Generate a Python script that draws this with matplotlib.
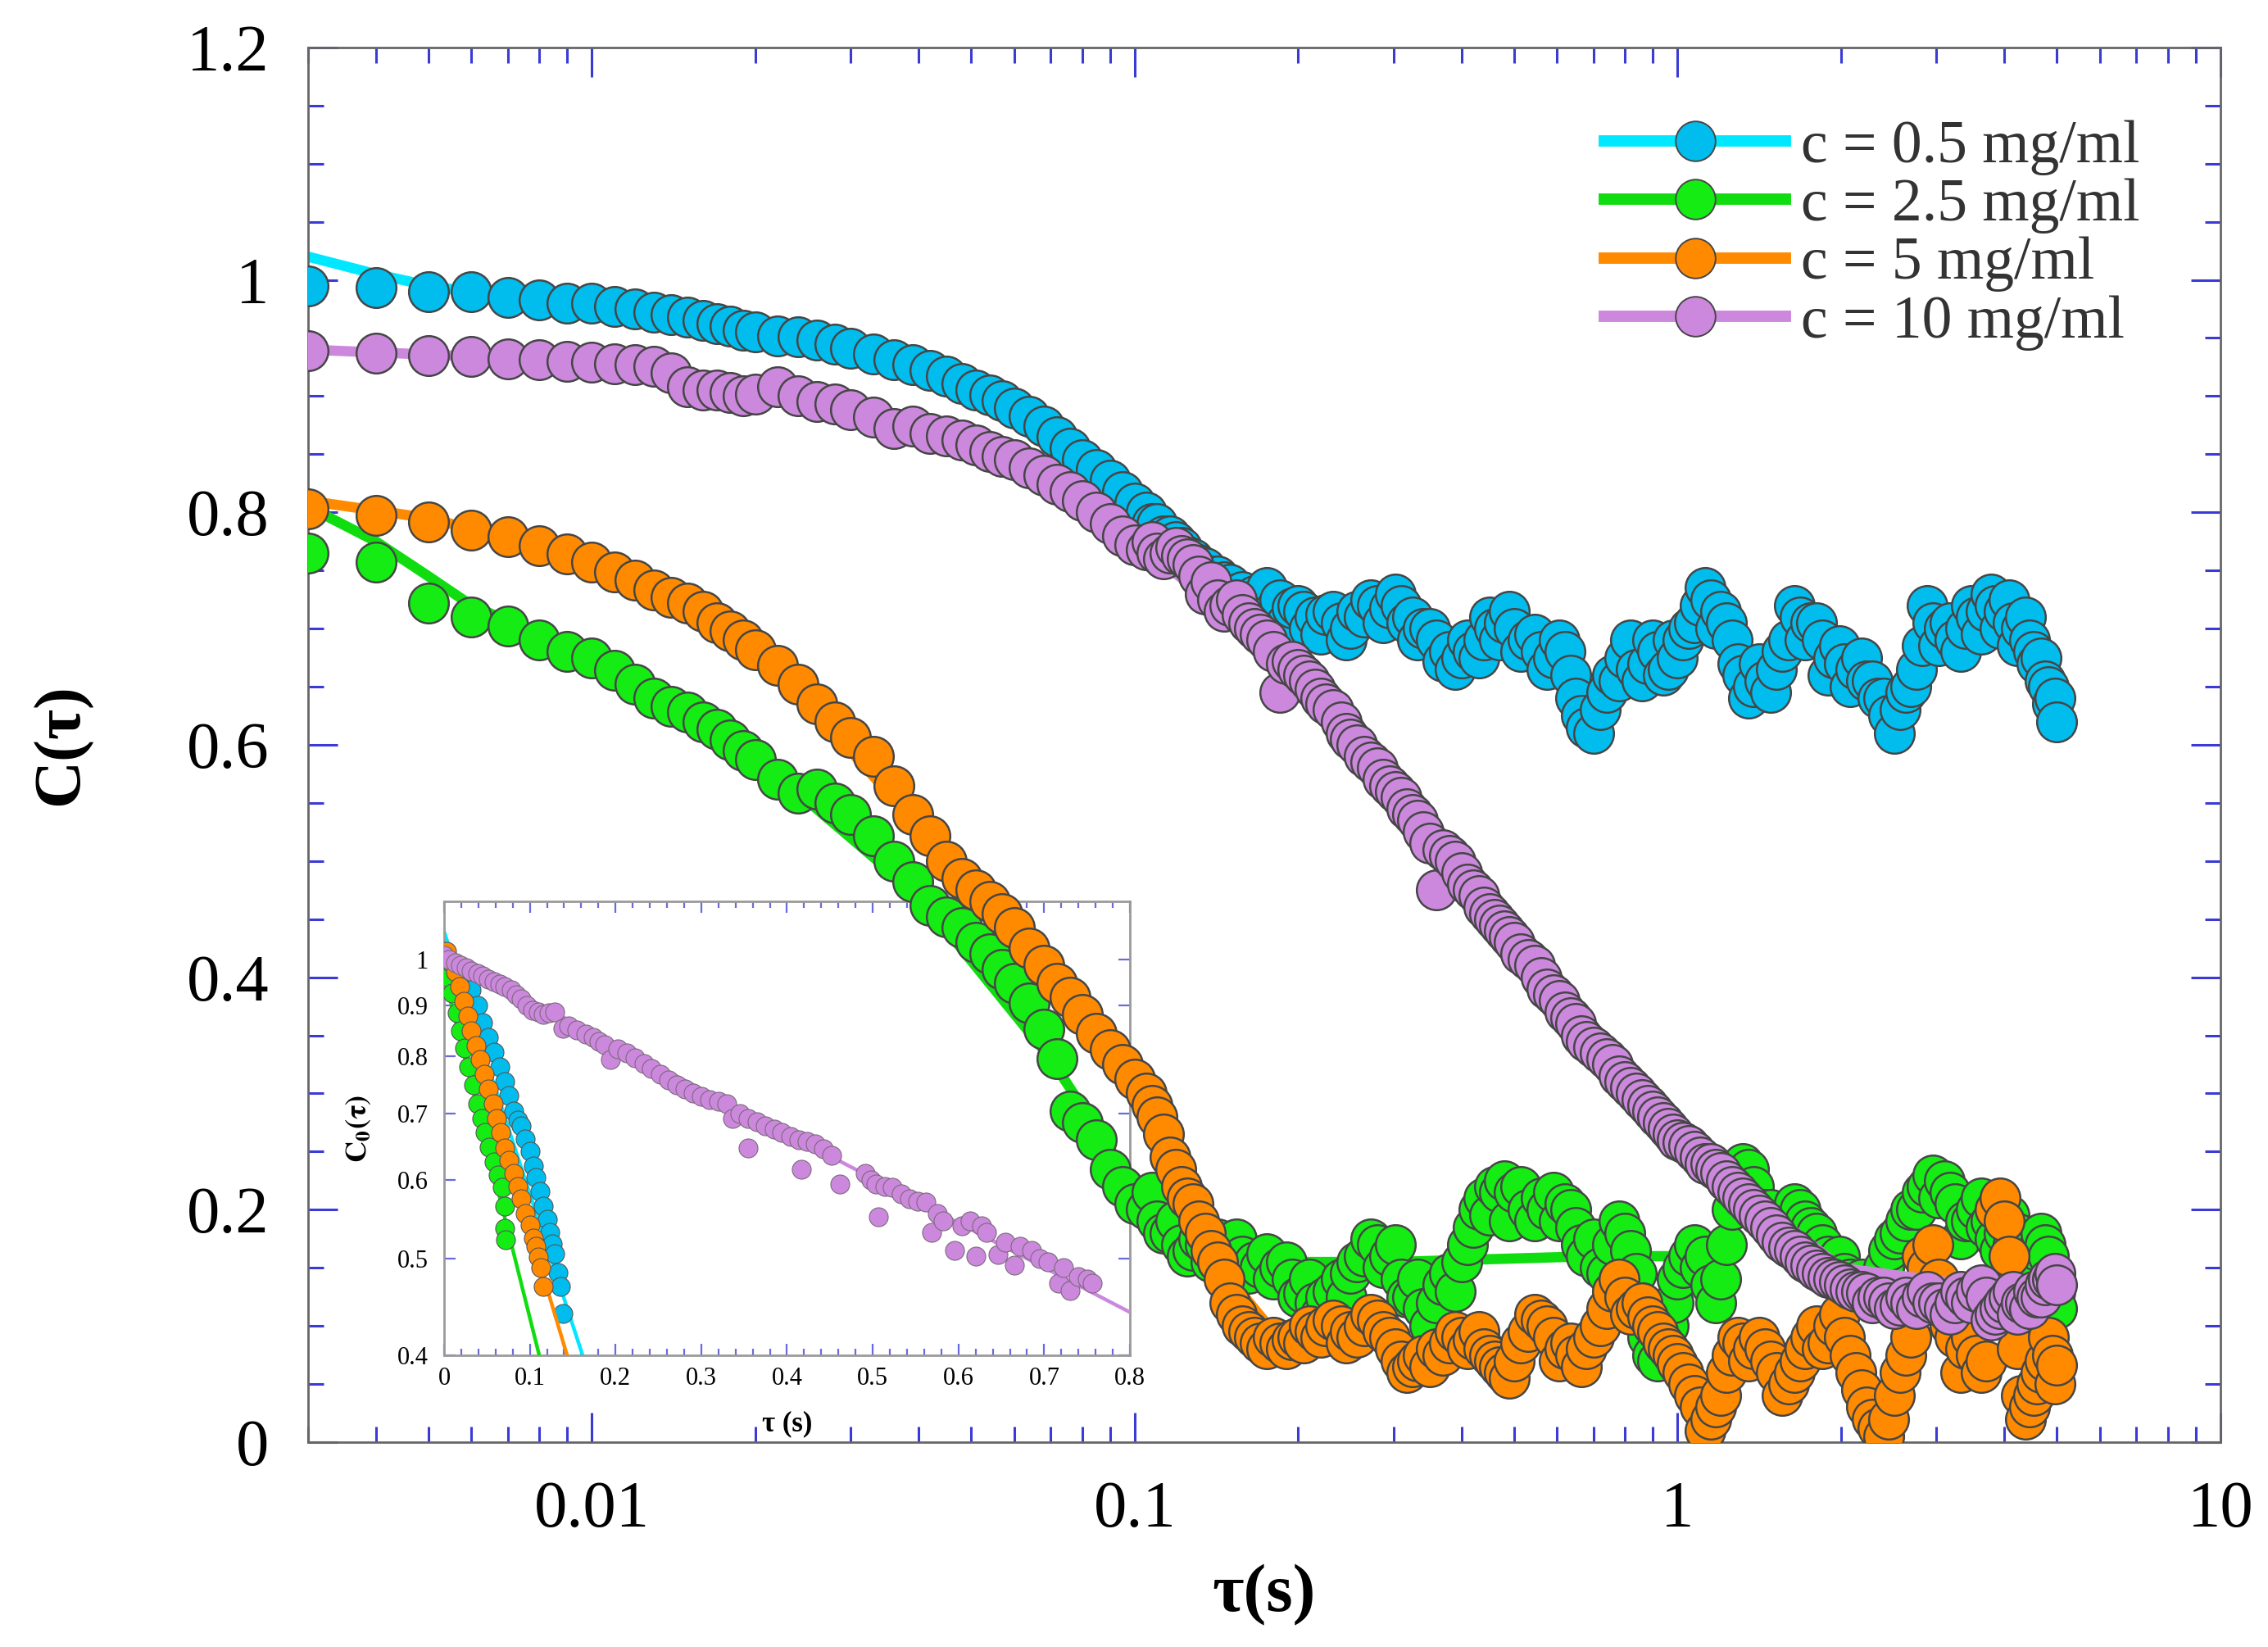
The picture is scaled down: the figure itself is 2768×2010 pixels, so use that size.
import numpy as np
import matplotlib
matplotlib.use("Agg")
import matplotlib.pyplot as plt
from matplotlib.lines import Line2D
from matplotlib.ticker import MultipleLocator, LogLocator, NullFormatter

plt.rcParams['font.family'] = ['Liberation Serif', 'DejaVu Serif']
plt.rcParams['mathtext.fontset'] = 'stix'

# ---- main plot data ----
TAU = [
    0.003, 0.004, 0.005, 0.006, 0.007, 0.008, 0.009, 0.010, 0.011, 0.012,
    0.013, 0.014, 0.015, 0.016, 0.017, 0.018, 0.019, 0.020,
    0.022, 0.024, 0.026, 0.028, 0.030, 0.033, 0.036, 0.039, 0.042, 0.045,
    0.048, 0.051, 0.054, 0.057, 0.060, 0.064, 0.068, 0.072, 0.076, 0.080,
    0.085, 0.090, 0.095, 0.100,
    0.105, 0.11, 0.116, 0.122, 0.128, 0.135, 0.142, 0.15, 0.158, 0.166,
    0.175, 0.185, 0.195, 0.205, 0.215, 0.225, 0.24, 0.25, 0.265, 0.28,
    0.295, 0.31, 0.325, 0.34, 0.36, 0.38, 0.40, 0.42, 0.44, 0.46,
    0.48, 0.50, 0.53, 0.56, 0.59, 0.62, 0.65, 0.68, 0.72, 0.76,
    0.80, 0.84, 0.88, 0.92, 0.96, 1.0,
    1.05, 1.1, 1.15, 1.2, 1.26, 1.32, 1.38, 1.45, 1.52, 1.6,
    1.68, 1.76, 1.85, 1.94, 2.03, 2.13, 2.23, 2.34, 2.45, 2.57,
    2.69, 2.82, 2.95, 3.1, 3.25, 3.4, 3.55, 3.7, 3.85, 4.0,
    4.15, 4.3, 4.45, 4.6, 4.75, 4.9, 5.0,
]

C_05 = [
    0.995, 0.993, 0.99, 0.99, 0.985, 0.983, 0.98, 0.98, 0.977, 0.975,
    0.972, 0.97, 0.968, 0.965, 0.962, 0.96, 0.957, 0.955,
    0.952, 0.951, 0.948, 0.945, 0.941, 0.936, 0.931, 0.927, 0.922, 0.917,
    0.911, 0.905, 0.901, 0.896, 0.89, 0.883, 0.874, 0.865, 0.855, 0.845,
    0.837, 0.828, 0.818, 0.808,
    0.80, 0.79, 0.78, 0.77, 0.76, 0.752, 0.745, 0.738, 0.732, 0.728,
    0.735, 0.725, 0.718, 0.715, 0.71, 0.712, 0.705, 0.70, 0.71, 0.72,
    0.718, 0.72, 0.71, 0.70, 0.69, 0.68, 0.675, 0.68, 0.69, 0.70,
    0.705, 0.70, 0.69, 0.68, 0.675, 0.68, 0.64, 0.615, 0.63, 0.66,
    0.675, 0.665, 0.67, 0.68, 0.665, 0.675,
    0.70, 0.72, 0.725, 0.715, 0.69, 0.66, 0.65, 0.655, 0.665, 0.69,
    0.71, 0.705, 0.69, 0.675, 0.67, 0.665, 0.655, 0.64, 0.625, 0.63,
    0.65, 0.685, 0.705, 0.70, 0.69, 0.70, 0.71, 0.715, 0.72, 0.715,
    0.705, 0.70, 0.69, 0.67, 0.655, 0.635, 0.62,
]

C_25 = [
    0.765, 0.757, 0.722, 0.71, 0.702, 0.69, 0.68, 0.675, 0.664, 0.652,
    0.64, 0.633, 0.628, 0.62, 0.613, 0.604, 0.595, 0.587,
    0.57, 0.558, 0.562, 0.55, 0.54, 0.522, 0.50, 0.482, 0.462, 0.452,
    0.443, 0.43, 0.42, 0.407, 0.395, 0.378, 0.355, 0.33, 0.285, 0.275,
    0.26, 0.235, 0.22, 0.205,
    0.20, 0.19, 0.18, 0.17, 0.165, 0.17, 0.175, 0.165, 0.16, 0.155,
    0.162, 0.15, 0.14, 0.128, 0.12, 0.125, 0.14, 0.145, 0.16, 0.17,
    0.16, 0.14, 0.125, 0.115, 0.12, 0.145, 0.155, 0.185, 0.21, 0.22,
    0.225, 0.215, 0.20, 0.21, 0.215, 0.205, 0.185, 0.16, 0.15, 0.17,
    0.18, 0.145, 0.09, 0.07, 0.10, 0.14,
    0.16, 0.15, 0.135, 0.14, 0.20, 0.24, 0.22, 0.20, 0.185, 0.19,
    0.20, 0.185, 0.17, 0.155, 0.145, 0.135, 0.13, 0.14, 0.165, 0.18,
    0.20, 0.215, 0.23, 0.225, 0.205, 0.19, 0.20, 0.185, 0.175, 0.18,
    0.17, 0.165, 0.155, 0.165, 0.17, 0.14, 0.115,
]

C_5 = [
    0.803, 0.797, 0.792, 0.785, 0.779, 0.771, 0.764, 0.757, 0.749, 0.742,
    0.733, 0.727, 0.722, 0.715, 0.705, 0.698, 0.69, 0.682,
    0.668, 0.652, 0.635, 0.62, 0.606, 0.59, 0.565, 0.54, 0.522, 0.50,
    0.485, 0.475, 0.465, 0.455, 0.443, 0.425, 0.41, 0.395, 0.383, 0.368,
    0.352, 0.338, 0.325, 0.312,
    0.30, 0.28, 0.245, 0.22, 0.205, 0.18, 0.155, 0.12, 0.10, 0.09,
    0.08, 0.085, 0.088, 0.085, 0.095, 0.10, 0.10, 0.095, 0.10, 0.105,
    0.09, 0.07, 0.065, 0.075, 0.08, 0.085, 0.09, 0.088, 0.08, 0.07,
    0.06, 0.07, 0.095, 0.105, 0.09, 0.08, 0.075, 0.08, 0.10, 0.13,
    0.125, 0.115, 0.108, 0.095, 0.08, 0.068,
    0.05, 0.03, 0.02, 0.04, 0.075, 0.085, 0.08, 0.08, 0.06, 0.05,
    0.07, 0.09, 0.08, 0.10, 0.09, 0.06, 0.03, 0.012, 0.02, 0.06,
    0.09, 0.16, 0.17, 0.12, 0.09, 0.08, 0.075, 0.07, 0.20, 0.19,
    0.12, 0.04, 0.03, 0.05, 0.07, 0.075, 0.066,
]

C_10 = [
    0.939, 0.937, 0.935, 0.934, 0.932, 0.931, 0.930, 0.929, 0.928, 0.927,
    0.926, 0.920, 0.908, 0.905, 0.905, 0.903, 0.900, 0.902,
    0.908, 0.90, 0.895, 0.893, 0.888, 0.882, 0.872, 0.874, 0.868, 0.866,
    0.862, 0.858, 0.852, 0.848, 0.845, 0.838, 0.832, 0.824, 0.818, 0.81,
    0.80, 0.79, 0.78, 0.772,
    0.768, 0.765, 0.765, 0.763, 0.755, 0.73, 0.725, 0.72, 0.712, 0.70,
    0.69, 0.645, 0.672, 0.66, 0.648, 0.635, 0.62, 0.605, 0.59, 0.58,
    0.565, 0.555, 0.54, 0.525, 0.475, 0.505, 0.49, 0.475, 0.46, 0.45,
    0.44, 0.43, 0.415, 0.40, 0.385, 0.37, 0.36, 0.345, 0.335, 0.325,
    0.31, 0.30, 0.29, 0.28, 0.27, 0.26,
    0.255, 0.245, 0.24, 0.232, 0.22, 0.21, 0.20, 0.19, 0.178, 0.168,
    0.16, 0.152, 0.145, 0.14, 0.135, 0.13, 0.128, 0.125, 0.12, 0.118,
    0.12, 0.125, 0.12, 0.115, 0.12, 0.125, 0.13, 0.125, 0.11, 0.12,
    0.13, 0.12, 0.115, 0.125, 0.135, 0.14, 0.135,
]

# second set of lag times in the dense part (other edge of each noisy band)
TAU_B = [
    0.1075, 0.113, 0.119, 0.125, 0.131, 0.138, 0.146, 0.154, 0.162, 0.17,
    0.18, 0.19, 0.2, 0.21, 0.22, 0.232, 0.245, 0.257, 0.272, 0.287,
    0.302, 0.317, 0.332, 0.35, 0.37, 0.39, 0.41, 0.43, 0.45, 0.47,
    0.49, 0.515, 0.545, 0.575, 0.605, 0.635, 0.665, 0.70, 0.74, 0.78,
    0.82, 0.86, 0.90, 0.94, 0.98,
    1.025, 1.075, 1.125, 1.175, 1.23, 1.29, 1.35, 1.415, 1.485, 1.56,
    1.64, 1.72, 1.805, 1.895, 1.985, 2.08, 2.18, 2.285, 2.395, 2.51,
    2.63, 2.755, 2.885, 3.025, 3.175, 3.325, 3.475, 3.625, 3.775, 3.925,
    4.075, 4.225, 4.375, 4.525, 4.675, 4.825, 4.95,
]

C_05_B = [
    0.79, 0.78, 0.775, 0.762, 0.755, 0.745, 0.74, 0.73, 0.72, 0.725,
    0.715, 0.705, 0.72, 0.70, 0.695, 0.715, 0.69, 0.715, 0.725, 0.705,
    0.73, 0.705, 0.69, 0.70, 0.672, 0.665, 0.69, 0.675, 0.71, 0.69,
    0.715, 0.68, 0.695, 0.665, 0.69, 0.66, 0.625, 0.61, 0.645, 0.655,
    0.69, 0.655, 0.69, 0.66, 0.69,
    0.69, 0.705, 0.735, 0.70, 0.705, 0.67, 0.64, 0.67, 0.645, 0.68,
    0.72, 0.69, 0.705, 0.66, 0.685, 0.65, 0.675, 0.655, 0.64, 0.61,
    0.645, 0.665, 0.72, 0.685, 0.705, 0.68, 0.72, 0.695, 0.73, 0.70,
    0.725, 0.685, 0.71, 0.68, 0.675, 0.65, 0.64,
]

C_25_B = [
    0.215, 0.18, 0.19, 0.16, 0.175, 0.155, 0.16, 0.175, 0.145, 0.15,
    0.14, 0.155, 0.125, 0.14, 0.11, 0.13, 0.125, 0.155, 0.175, 0.15,
    0.17, 0.125, 0.14, 0.10, 0.135, 0.13, 0.17, 0.20, 0.195, 0.215,
    0.19, 0.22, 0.19, 0.20, 0.19, 0.20, 0.17, 0.175, 0.145, 0.19,
    0.165, 0.12, 0.075, 0.085, 0.12,
    0.15, 0.17, 0.16, 0.12, 0.17, 0.225, 0.235, 0.20, 0.20, 0.175,
    0.205, 0.19, 0.18, 0.16, 0.16, 0.14, 0.14, 0.125, 0.15, 0.175,
    0.19, 0.20, 0.22, 0.21, 0.215, 0.175, 0.19, 0.21, 0.19, 0.165,
    0.195, 0.18, 0.17, 0.15, 0.18, 0.16, 0.13,
]

C_5_B = [
    0.29, 0.265, 0.235, 0.21, 0.19, 0.165, 0.14, 0.11, 0.095, 0.085,
    0.09, 0.08, 0.09, 0.10, 0.09, 0.105, 0.085, 0.09, 0.11, 0.095,
    0.08, 0.06, 0.07, 0.065, 0.075, 0.095, 0.08, 0.095, 0.075, 0.065,
    0.055, 0.085, 0.11, 0.10, 0.07, 0.085, 0.065, 0.09, 0.115, 0.14,
    0.11, 0.12, 0.10, 0.085, 0.075,
    0.06, 0.04, 0.01, 0.03, 0.06, 0.09, 0.07, 0.09, 0.07, 0.04,
    0.06, 0.08, 0.10, 0.085, 0.11, 0.075, 0.045, 0.02, 0.005, 0.04,
    0.075, 0.12, 0.15, 0.14, 0.10, 0.06, 0.09, 0.06, 0.13, 0.21,
    0.16, 0.08, 0.02, 0.04, 0.06, 0.09, 0.05,
]

C_10_B = [
    0.775, 0.76, 0.77, 0.76, 0.745, 0.74, 0.715, 0.725, 0.705, 0.695,
    0.68, 0.67, 0.665, 0.655, 0.64, 0.63, 0.61, 0.60, 0.585, 0.57,
    0.56, 0.545, 0.535, 0.515, 0.51, 0.50, 0.48, 0.47, 0.455, 0.445,
    0.435, 0.42, 0.41, 0.39, 0.38, 0.365, 0.35, 0.34, 0.33, 0.315,
    0.305, 0.295, 0.285, 0.275, 0.265,
    0.258, 0.25, 0.24, 0.235, 0.225, 0.215, 0.205, 0.195, 0.185, 0.172,
    0.165, 0.155, 0.148, 0.142, 0.138, 0.132, 0.13, 0.12, 0.125, 0.115,
    0.125, 0.115, 0.13, 0.12, 0.11, 0.13, 0.12, 0.135, 0.105, 0.115,
    0.125, 0.11, 0.12, 0.13, 0.125, 0.14, 0.145,
]

# fit curves of the main plot (mostly hidden under the markers)
FIT_TAU_05 = [0.003, 0.004, 0.005, 0.007, 0.01, 0.02, 0.05, 0.1, 0.15, 0.2, 0.25]
FIT_C_05 = [1.02, 1.005, 0.995, 0.985, 0.975, 0.955, 0.90, 0.808, 0.745, 0.72, 0.71]
FIT_TAU_25 = [0.003, 0.004, 0.005, 0.006, 0.008, 0.01, 0.02, 0.04, 0.07, 0.1, 0.15, 0.2, 0.3, 0.5, 0.7, 1.0]
FIT_C_25 = [0.805, 0.775, 0.745, 0.72, 0.695, 0.677, 0.59, 0.47, 0.33, 0.22, 0.17, 0.155, 0.155, 0.158, 0.16, 0.16]
FIT_TAU_5 = [0.003, 0.005, 0.01, 0.02, 0.05, 0.1, 0.15, 0.18]
FIT_C_5 = [0.81, 0.795, 0.76, 0.685, 0.48, 0.31, 0.14, 0.095]
FIT_TAU_10 = [0.003, 0.01, 0.02, 0.05, 0.1, 0.2, 0.5, 1, 2, 5]
FIT_C_10 = [0.94, 0.93, 0.905, 0.86, 0.775, 0.665, 0.43, 0.26, 0.15, 0.125]

LABELS = ['c = 0.5 mg/ml', 'c = 2.5 mg/ml', 'c = 5 mg/ml', 'c = 10 mg/ml']

# ---- inset data ----
IN_TAU_05 = [0.006, 0.013, 0.019, 0.026, 0.032, 0.039, 0.045, 0.052, 0.058, 0.065,
             0.071, 0.076, 0.081, 0.086, 0.09, 0.095, 0.1, 0.104, 0.107, 0.112,
             0.116, 0.12, 0.123, 0.126, 0.129, 0.133, 0.136, 0.139]
IN_C_05 = [1.0, 0.99, 0.981, 0.955, 0.933, 0.90, 0.864, 0.835, 0.807, 0.78,
           0.754, 0.73, 0.705, 0.69, 0.681, 0.66, 0.642, 0.62, 0.604, 0.585,
           0.565, 0.548, 0.532, 0.518, 0.506, 0.485, 0.469, 0.441]
IN_TAU_25 = [0.0, 0.005, 0.01, 0.015, 0.019, 0.024, 0.029, 0.034, 0.039, 0.044,
             0.048, 0.053, 0.058, 0.063, 0.068, 0.071, 0.071, 0.072]
IN_C_25 = [0.994, 0.96, 0.925, 0.885, 0.849, 0.815, 0.78, 0.748, 0.717, 0.692,
           0.67, 0.648, 0.626, 0.607, 0.59, 0.565, 0.537, 0.523]
IN_TAU_5 = [0.003, 0.008, 0.013, 0.018, 0.023, 0.028, 0.032, 0.037, 0.042, 0.047,
            0.052, 0.057, 0.061, 0.066, 0.071, 0.076, 0.081, 0.086, 0.09, 0.095,
            0.1, 0.104, 0.107, 0.11, 0.113, 0.116]
IN_C_5 = [1.02, 0.995, 0.973, 0.94, 0.909, 0.878, 0.849, 0.82, 0.794, 0.767,
          0.742, 0.716, 0.693, 0.67, 0.647, 0.628, 0.61, 0.592, 0.575, 0.556,
          0.541, 0.525, 0.515, 0.502, 0.49, 0.469]
IN_TAU_10 = [0.0, 0.006, 0.013, 0.019, 0.026, 0.032, 0.039, 0.045, 0.052, 0.058,
             0.065, 0.071, 0.078, 0.084, 0.090, 0.097, 0.103, 0.110, 0.116, 0.122,
             0.129, 0.139, 0.145, 0.155, 0.165, 0.174, 0.181, 0.187, 0.194, 0.203,
             0.213, 0.223, 0.233, 0.242, 0.252, 0.262, 0.271, 0.281, 0.291, 0.300,
             0.310, 0.320, 0.330, 0.336, 0.345, 0.355, 0.355, 0.365, 0.375, 0.385,
             0.394, 0.404, 0.414, 0.417, 0.423, 0.433, 0.443, 0.452, 0.462, 0.491,
             0.498, 0.504, 0.507, 0.514, 0.523, 0.533, 0.543, 0.552, 0.562, 0.569,
             0.575, 0.582, 0.595, 0.604, 0.614, 0.620, 0.627, 0.633, 0.646, 0.655,
             0.665, 0.672, 0.685, 0.695, 0.704, 0.717, 0.723, 0.730, 0.740, 0.750,
             0.756]
IN_C_10 = [1.011, 1.00, 0.994, 0.987, 0.981, 0.975, 0.969, 0.963, 0.957, 0.951,
           0.945, 0.94, 0.933, 0.922, 0.913, 0.90, 0.89, 0.886, 0.882, 0.884,
           0.886, 0.853, 0.858, 0.85, 0.842, 0.835, 0.828, 0.821, 0.794, 0.814,
           0.806, 0.797, 0.787, 0.777, 0.767, 0.757, 0.748, 0.741, 0.735, 0.729,
           0.723, 0.72, 0.717, 0.693, 0.70, 0.693, 0.647, 0.687, 0.681, 0.675,
           0.67, 0.664, 0.659, 0.616, 0.656, 0.653, 0.645, 0.636, 0.595, 0.61,
           0.60, 0.595, 0.551, 0.592, 0.59, 0.582, 0.575, 0.572, 0.57, 0.532,
           0.556, 0.546, 0.51, 0.54, 0.546, 0.503, 0.54, 0.532, 0.505, 0.52,
           0.493, 0.515, 0.51, 0.50, 0.497, 0.473, 0.49, 0.465, 0.48, 0.477,
           0.473]
# single-exponential fits (straight lines on the log axis)
IN_FIT_TAU = [[0.0, 0.1616], [0.0, 0.111], [0.0, 0.1435], [0.0, 0.8]]
IN_FIT_C = [[1.068, 0.4], [0.965, 0.4], [1.037, 0.4], [1.011, 0.442]]

# colours: line / marker face
LINE_COLORS = ['#00E8FF', '#10DD10', '#FF8A00', '#CC88DD']
FACE_COLORS = ['#00BDEE', '#14EC14', '#FF8A00', '#CC88DD']
EDGE = '#464646'
TICK_BLUE = '#3a3ad6'

fig = plt.figure(figsize=(13.84, 10.05), dpi=200)
ax = fig.add_axes([0.1358, 0.1244, 0.8432, 0.8468])
axin = fig.add_axes([0.1958, 0.1771, 0.3024, 0.2756])
ax.set_zorder(2)
axin.set_zorder(1)
ax.patch.set_visible(False)
axin.patch.set_visible(False)

series = [(C_05, C_05_B), (C_25, C_25_B), (C_5, C_5_B), (C_10, C_10_B)]
fits = [(FIT_TAU_05, FIT_C_05), (FIT_TAU_25, FIT_C_25), (FIT_TAU_5, FIT_C_5), (FIT_TAU_10, FIT_C_10)]
for i, (ca, cb) in enumerate(series):
    t_all = np.array(TAU + TAU_B)
    c_all = np.array(ca + cb)
    order = np.argsort(t_all, kind='stable')
    ax.plot(fits[i][0], fits[i][1], '-', color=LINE_COLORS[i], lw=4.5,
            solid_capstyle='butt', zorder=2 + 2 * i)
    ax.plot(t_all[order], c_all[order], linestyle='none', marker='o', markersize=17.5,
            markerfacecolor=FACE_COLORS[i], markeredgecolor=EDGE,
            markeredgewidth=0.9, zorder=3 + 2 * i)

ax.set_xscale('log')
ax.set_xlim(0.003, 10)
ax.set_ylim(0, 1.2)
ax.set_xticks([0.01, 0.1, 1, 10], labels=['0.01', '0.1', '1', '10'])
ax.xaxis.set_minor_locator(LogLocator(base=10, subs=np.arange(2, 10)))
ax.xaxis.set_minor_formatter(NullFormatter())
ax.set_yticks([0, 0.2, 0.4, 0.6, 0.8, 1.0, 1.2],
              labels=['0', '0.2', '0.4', '0.6', '0.8', '1', '1.2'])
ax.yaxis.set_minor_locator(MultipleLocator(0.05))
ax.tick_params(which='both', direction='in', top=True, right=True,
               color=TICK_BLUE, labelsize=29, width=1.1)
ax.tick_params(which='major', length=13, pad=17)
ax.tick_params(which='minor', length=7)
for s in ax.spines.values():
    s.set_color('#666666')
    s.set_linewidth(1.0)

ax.set_xlabel('τ(s)', fontsize=30, fontweight='bold')
ax.set_ylabel('C(τ)', fontsize=29, fontweight='bold')
ax.xaxis.set_label_coords(0.5, -0.088)
ax.yaxis.set_label_coords(-0.113, 0.5)

handles = [Line2D([], [], color=LINE_COLORS[i], lw=5, marker='o', markersize=17.5,
                  markerfacecolor=FACE_COLORS[i], markeredgecolor=EDGE,
                  markeredgewidth=0.7) for i in range(4)]
leg = ax.legend(handles, LABELS, loc='upper left', bbox_to_anchor=(0.678, 0.948),
                frameon=False, fontsize=26.5, borderpad=0, borderaxespad=0,
                handlelength=3.0, handletextpad=0.25, labelspacing=0.05)
for t in leg.get_texts():
    t.set_color('#333333')

# ---- inset ----
in_series = [(IN_TAU_05, IN_C_05), (IN_TAU_25, IN_C_25), (IN_TAU_5, IN_C_5), (IN_TAU_10, IN_C_10)]
for i in range(4):
    axin.plot(IN_FIT_TAU[i], IN_FIT_C[i], '-', color=LINE_COLORS[i], lw=1.6, zorder=2 + 2 * i)
    axin.plot(in_series[i][0], in_series[i][1], linestyle='none', marker='o',
              markersize=8.3, markerfacecolor=FACE_COLORS[i],
              markeredgecolor='#7a6a7a' if i == 3 else '#555555',
              markeredgewidth=0.4, zorder=3 + 2 * i)

axin.set_yscale('log')
axin.set_xlim(0, 0.8)
axin.set_ylim(0.4, 1.145)
axin.set_xticks([0, 0.1, 0.2, 0.3, 0.4, 0.5, 0.6, 0.7, 0.8],
                labels=['0', '0.1', '0.2', '0.3', '0.4', '0.5', '0.6', '0.7', '0.8'])
axin.xaxis.set_minor_locator(MultipleLocator(0.02))
axin.set_yticks([0.4, 0.5, 0.6, 0.7, 0.8, 0.9, 1.0],
                labels=['0.4', '0.5', '0.6', '0.7', '0.8', '0.9', '1'])
axin.yaxis.set_minor_locator(plt.NullLocator())
axin.tick_params(which='both', direction='in', top=True, right=True,
                 color='#6a6ae0', labelsize=11, width=0.8)
axin.tick_params(which='major', length=5, pad=5)
axin.tick_params(which='minor', length=3)
axin.tick_params(axis='y', pad=7)
for s in axin.spines.values():
    s.set_color('#9a9a9a')
    s.set_linewidth(1.0)
axin.set_xlabel('τ (s)', fontsize=12.5, fontweight='bold')
axin.set_ylabel(r'$\mathbf{C_0(\tau)}$', fontsize=13)
axin.xaxis.set_label_coords(0.5, -0.121)
axin.yaxis.set_label_coords(-0.104, 0.5)

fig.savefig('out.png', dpi=200, facecolor='white')
